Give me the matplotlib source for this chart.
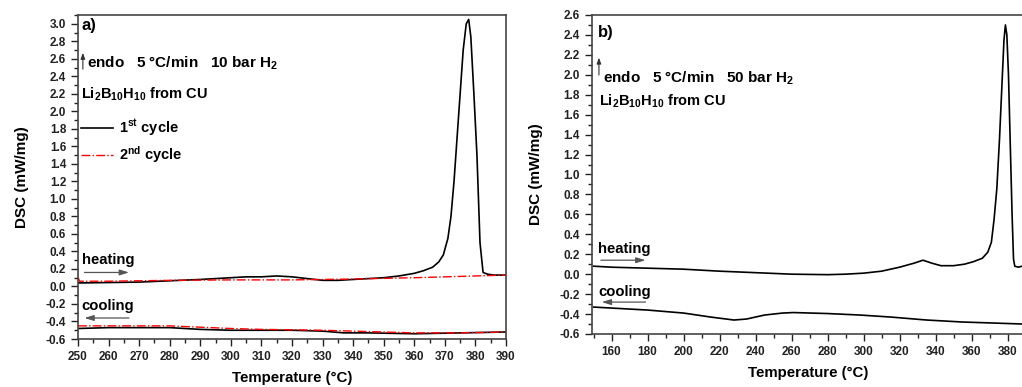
import matplotlib
matplotlib.use("Agg")
import matplotlib.pyplot as plt
from matplotlib.ticker import MultipleLocator

plt.rcParams['font.family'] = ['Liberation Sans', 'DejaVu Sans']
plt.rcParams['font.weight'] = 'bold'
plt.rcParams['axes.labelweight'] = 'bold'
plt.rcParams['mathtext.fontset'] = 'custom'
plt.rcParams['mathtext.rm'] = 'Liberation Sans:bold'
plt.rcParams['mathtext.it'] = 'Liberation Sans:bold'
plt.rcParams['mathtext.bf'] = 'Liberation Sans:bold'

# ---- panel a) 10 bar H2 ----
a_heat1_T = [250, 260, 270, 280, 290, 300, 305, 310, 315, 320, 325, 330, 335, 340, 345,
             350, 355, 360, 363, 366, 368, 369.5, 371, 372, 373, 374, 375, 376, 377,
             377.8, 378.5, 379.5, 380.5, 381.5, 382.5, 384, 386, 390]
a_heat1_v = [0.04, 0.045, 0.05, 0.065, 0.08, 0.10, 0.11, 0.11, 0.12, 0.11, 0.09, 0.07, 0.07,
             0.08, 0.09, 0.10, 0.12, 0.15, 0.18, 0.22, 0.28, 0.36, 0.55, 0.80, 1.20, 1.70,
             2.20, 2.70, 3.00, 3.05, 2.85, 2.20, 1.50, 0.50, 0.16, 0.14, 0.13, 0.13]
a_heat2_T = [250, 250.5, 260, 280, 300, 320, 340, 360, 380, 390]
a_heat2_v = [0.11, 0.06, 0.06, 0.07, 0.075, 0.075, 0.085, 0.10, 0.12, 0.13]
a_cool1_T = [250, 260, 280, 290, 300, 310, 320, 330, 337, 345, 360, 375, 390]
a_cool1_v = [-0.48, -0.47, -0.47, -0.49, -0.50, -0.50, -0.50, -0.51, -0.53, -0.53, -0.54, -0.53, -0.52]
a_cool2_T = [250, 260, 280, 300, 310, 330, 350, 360, 375, 390]
a_cool2_v = [-0.45, -0.45, -0.45, -0.48, -0.49, -0.50, -0.52, -0.53, -0.53, -0.52]

# ---- panel b) 50 bar H2 ----
b_heat_T = [150, 160, 180, 200, 220, 240, 260, 280, 290, 300, 310, 320, 328, 333, 338, 343,
            350, 356, 361, 366, 369, 371, 372.5, 374, 375.5, 377, 378, 378.8, 379.6, 380.5,
            381.5, 382.5, 383.3, 384, 386, 388]
b_heat_v = [0.08, 0.07, 0.06, 0.05, 0.03, 0.015, 0.0, -0.005, 0.0, 0.01, 0.03, 0.07, 0.11,
            0.14, 0.11, 0.085, 0.085, 0.10, 0.125, 0.16, 0.22, 0.32, 0.55, 0.85, 1.35, 1.95,
            2.35, 2.50, 2.40, 2.00, 1.30, 0.60, 0.15, 0.08, 0.07, 0.08]
b_cool_T = [150, 165, 180, 200, 215, 228, 235, 245, 255, 261, 280, 298, 315, 335, 355, 372, 388]
b_cool_v = [-0.33, -0.345, -0.36, -0.39, -0.43, -0.46, -0.45, -0.41, -0.39, -0.385, -0.395,
            -0.41, -0.43, -0.46, -0.48, -0.49, -0.50]

fig = plt.figure(figsize=(10.22, 3.87), dpi=100)
axa = fig.add_axes([0.0763, 0.124, 0.4188, 0.8372])
axb = fig.add_axes([0.579, 0.137, 0.4245, 0.8243])

arrow_small = dict(arrowstyle='-|>,head_length=0.35,head_width=0.13', color='#333333', lw=0.8)
arrow_dir = dict(arrowstyle='-|>,head_length=0.55,head_width=0.17', color='#555555', lw=0.9)


def style(ax, xmaj, xmin):
    for s in ax.spines.values():
        s.set_color('#444444')
        s.set_linewidth(1.2)
    ax.tick_params(which='both', direction='out', top=False, right=False,
                   labelsize=8.5, colors='#222222', width=1.0)
    ax.tick_params(which='major', length=5)
    ax.tick_params(which='minor', length=2.8)
    ax.xaxis.set_major_locator(MultipleLocator(xmaj))
    ax.xaxis.set_minor_locator(MultipleLocator(xmin))
    ax.yaxis.set_major_locator(MultipleLocator(0.2))
    ax.yaxis.set_minor_locator(MultipleLocator(0.1))
    ax.yaxis.set_major_formatter(plt.FuncFormatter(lambda v, p: f"{v:.1f}".replace('-0.0', '0.0')))
    ax.set_xlabel('Temperature (°C)', fontsize=10.8, fontweight='bold', labelpad=6)
    ax.set_ylabel('DSC (mW/mg)', fontsize=11, fontweight='bold', labelpad=12)


# panel a
axa.plot(a_heat1_T, a_heat1_v, color='black', lw=1.2, label='1$^{st}$ cycle')
axa.plot(a_heat2_T, a_heat2_v, color='red', lw=1.0, ls='-.', label='2$^{nd}$ cycle')
axa.plot(a_cool1_T, a_cool1_v, color='black', lw=1.2)
axa.plot(a_cool2_T, a_cool2_v, color='red', lw=1.0, ls='-.')
axa.set_xlim(250, 390)
axa.set_ylim(-0.6, 3.1)
style(axa, 10, 5)

axa.text(251.0, 2.98, 'a)', fontsize=12, va='center')
axa.annotate('', xy=(251.6, 2.70), xytext=(251.6, 2.45), arrowprops=arrow_small)
axa.text(252.8, 2.50, 'endo   5 °C/min   10 bar H$_2$', fontsize=11, va='baseline')
axa.text(251, 2.145, 'Li$_2$B$_{10}$H$_{10}$ from CU', fontsize=10.5, va='baseline')
leg = axa.legend(loc='upper left', bbox_to_anchor=(0.007, 0.683), frameon=False,
                 borderpad=0, borderaxespad=0, handlelength=2.2, handletextpad=0.4,
                 labelspacing=0.4, prop={'weight': 'bold', 'size': 10.5})
axa.text(251.2, 0.26, 'heating', fontsize=10.7, va='baseline')
axa.annotate('', xy=(267.6, 0.16), xytext=(251.2, 0.16), arrowprops=arrow_dir)
axa.text(251.2, -0.27, 'cooling', fontsize=10.7, va='baseline')
axa.annotate('', xy=(251.2, -0.36), xytext=(267.6, -0.36), arrowprops=arrow_dir)

# panel b
axb.plot(b_heat_T, b_heat_v, color='black', lw=1.2)
axb.plot(b_cool_T, b_cool_v, color='black', lw=1.2)
axb.set_xlim(149, 390)
axb.set_ylim(-0.6, 2.6)
style(axb, 20, 10)

axb.text(152.2, 2.42, 'b)', fontsize=12, va='center')
axb.annotate('', xy=(153, 2.20), xytext=(153, 1.97), arrowprops=arrow_small)
axb.text(155.0, 1.92, 'endo   5 °C/min   50 bar H$_2$', fontsize=11, va='baseline')
axb.text(153.1, 1.69, 'Li$_2$B$_{10}$H$_{10}$ from CU', fontsize=10.5, va='baseline')
axb.text(152.5, 0.21, 'heating', fontsize=10.7, va='baseline')
axb.annotate('', xy=(180.4, 0.14), xytext=(152.5, 0.14), arrowprops=arrow_dir)
axb.text(152.5, -0.22, 'cooling', fontsize=10.7, va='baseline')
axb.annotate('', xy=(153, -0.28), xytext=(180.4, -0.28), arrowprops=arrow_dir)

fig.savefig('out.png', dpi=100)
